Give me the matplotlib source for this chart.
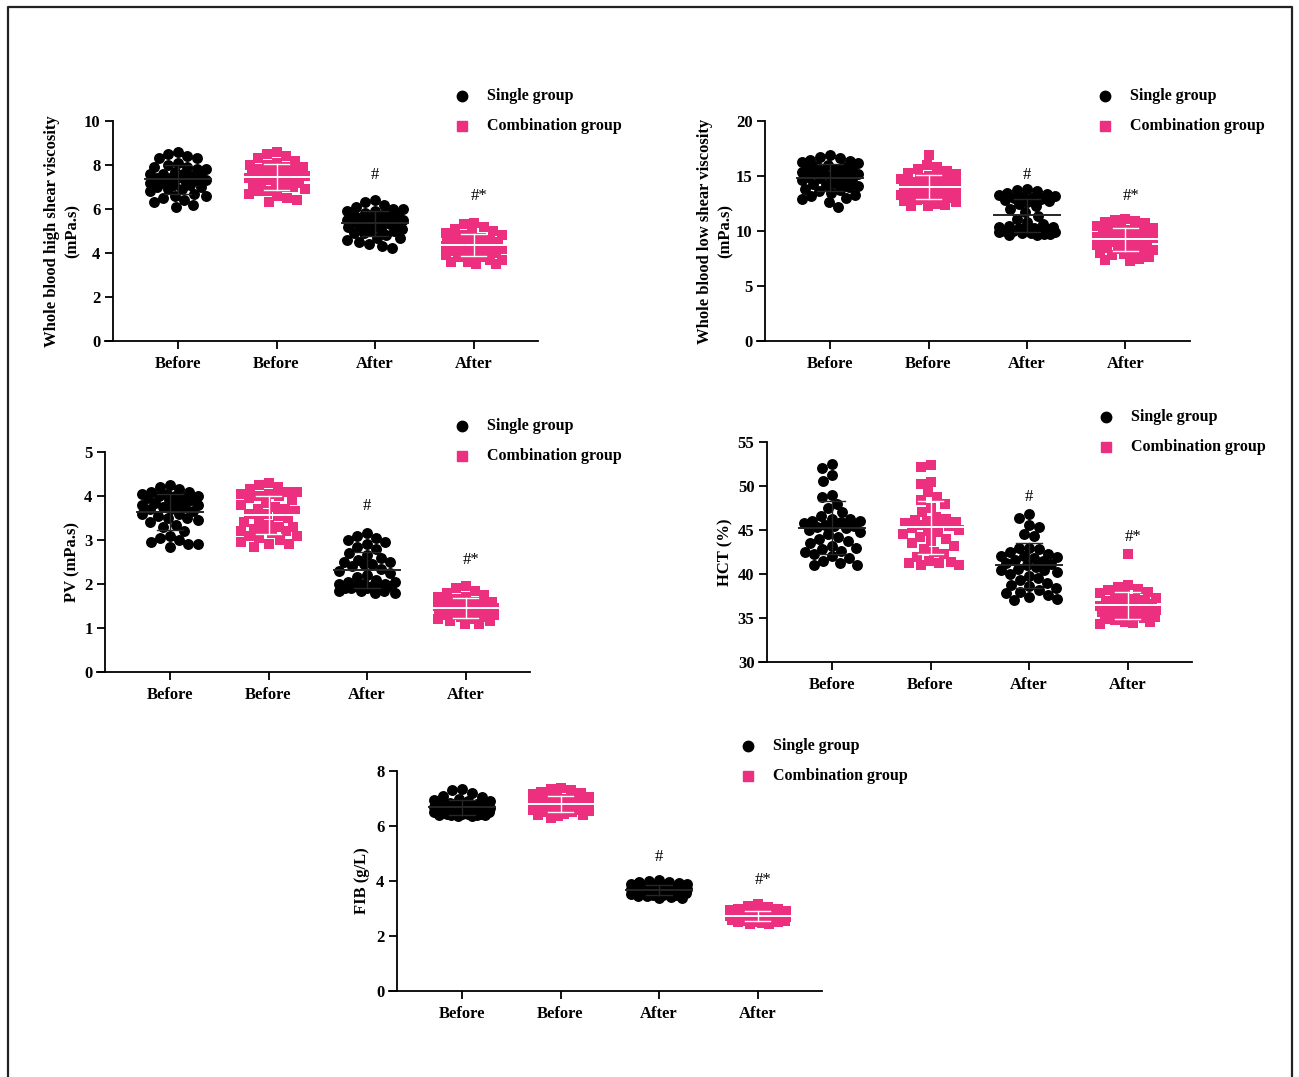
import numpy as np
import matplotlib.pyplot as plt
from matplotlib.lines import Line2D

plt.rcParams['font.family'] = ['Liberation Serif', 'DejaVu Serif']
plt.rcParams['font.weight'] = 'bold'

W, H = 1299, 1077
PINK = '#EC2F7E'
cats = ['Before', 'Before', 'After', 'After']
legend_labels = ['Single group', 'Combination group']

# --- values (approximate) ---
hs_single_before = [8.6, 8.5, 8.4, 8.3, 8.3, 8.1, 8.0, 7.9, 7.9, 7.8, 7.8, 7.7, 7.6, 7.6, 7.5, 7.5, 7.4, 7.4, 7.4, 7.3,
                    7.3, 7.3, 7.2, 7.2, 7.1, 7.1, 7.0, 7.0, 6.9, 6.9, 6.8, 6.7, 6.6, 6.6, 6.5, 6.4, 6.3, 6.2, 6.1, 7.6]
hs_combo_before = [8.6, 8.5, 8.4, 8.3, 8.2, 8.1, 8.0, 8.0, 7.9, 7.9, 7.8, 7.8, 7.7, 7.7, 7.6, 7.6, 7.6, 7.5, 7.5, 7.5,
                   7.4, 7.4, 7.3, 7.3, 7.2, 7.2, 7.1, 7.1, 7.0, 7.0, 6.9, 6.8, 6.8, 6.7, 6.6, 6.5, 6.4, 6.3, 7.8, 7.5]
hs_single_after = [6.4, 6.3, 6.2, 6.1, 6.0, 6.0, 5.9, 5.9, 5.8, 5.8, 5.7, 5.7, 5.6, 5.6, 5.5, 5.5, 5.5, 5.4, 5.4, 5.3,
                   5.3, 5.3, 5.2, 5.2, 5.1, 5.1, 5.0, 5.0, 4.9, 4.9, 4.8, 4.7, 4.7, 4.6, 4.5, 4.4, 4.3, 4.25, 5.6, 5.4]
hs_combo_after = [5.35, 5.3, 5.2, 5.1, 5.0, 4.9, 4.9, 4.8, 4.8, 4.7, 4.7, 4.6, 4.6, 4.5, 4.5, 4.5, 4.4, 4.4, 4.4, 4.3,
                  4.3, 4.3, 4.2, 4.2, 4.1, 4.1, 4.0, 4.0, 3.9, 3.9, 3.8, 3.8, 3.7, 3.7, 3.6, 3.6, 3.5, 3.5, 4.6, 4.2]

ls_single_before = [16.9, 16.7, 16.6, 16.5, 16.4, 16.3, 16.2, 16.0, 15.9, 15.8, 15.7, 15.6, 15.5, 15.4, 15.3, 15.2,
                    15.1, 15.0, 15.0, 14.9, 14.8, 14.7, 14.6, 14.5, 14.4, 14.3, 14.2, 14.1, 14.0, 13.8, 13.7, 13.6,
                    13.5, 13.3, 13.2, 13.0, 12.9, 12.6, 12.2, 15.6]
ls_combo_before = [16.9, 16.0, 15.8, 15.6, 15.5, 15.3, 15.2, 15.0, 14.9, 14.8, 14.7, 14.6, 14.5, 14.4, 14.3, 14.2,
                   14.1, 14.0, 14.0, 13.9, 13.8, 13.7, 13.6, 13.5, 13.4, 13.3, 13.2, 13.1, 13.0, 12.9, 12.8, 12.7,
                   12.6, 12.5, 12.4, 12.3, 12.3, 14.5, 13.8, 13.2]
ls_single_after = [13.8, 13.7, 13.6, 13.5, 13.4, 13.3, 13.2, 13.1, 13.0, 12.9, 12.8, 12.7, 12.5, 12.3, 12.0, 11.7,
                   11.4, 11.1, 10.8, 10.6, 10.5, 10.4, 10.3, 10.3, 10.2, 10.2, 10.1, 10.0, 10.0, 9.9, 9.9, 9.8,
                   9.8, 9.7, 9.7, 9.6, 9.6, 12.6, 13.0, 10.4]
ls_combo_after = [11.1, 11.0, 10.9, 10.8, 10.7, 10.5, 10.4, 10.3, 10.2, 10.1, 10.0, 9.9, 9.8, 9.7, 9.6, 9.5, 9.5,
                  9.4, 9.3, 9.2, 9.1, 9.0, 8.9, 8.8, 8.7, 8.6, 8.5, 8.4, 8.3, 8.2, 8.1, 8.0, 7.9, 7.8, 7.6, 7.5,
                  7.4, 7.3, 9.8, 9.4]

pv_single_before = [4.25, 4.2, 4.15, 4.1, 4.1, 4.05, 4.05, 4.0, 4.0, 3.95, 3.95, 3.9, 3.9, 3.85, 3.8, 3.8, 3.75,
                    3.75, 3.7, 3.7, 3.65, 3.6, 3.6, 3.55, 3.5, 3.5, 3.45, 3.4, 3.35, 3.3, 3.2, 3.1, 3.05, 3.0,
                    2.95, 2.9, 2.9, 2.85, 3.8, 4.0]
pv_combo_before = [4.3, 4.25, 4.2, 4.15, 4.1, 4.1, 4.05, 4.0, 4.0, 3.95, 3.9, 3.85, 3.8, 3.75, 3.7, 3.65, 3.6,
                   3.55, 3.5, 3.45, 3.4, 3.35, 3.3, 3.3, 3.25, 3.2, 3.2, 3.15, 3.1, 3.1, 3.05, 3.0, 2.95, 2.9,
                   2.9, 2.85, 3.7, 3.6, 4.05, 3.25]
pv_single_after = [3.15, 3.1, 3.05, 3.0, 2.95, 2.9, 2.85, 2.8, 2.7, 2.65, 2.6, 2.55, 2.5, 2.45, 2.45, 2.4, 2.35,
                   2.3, 2.25, 2.2, 2.15, 2.1, 2.05, 2.0, 2.0, 1.95, 1.95, 1.95, 1.9, 1.9, 1.9, 1.85, 1.85, 1.85,
                   1.8, 1.8, 2.0, 2.5, 2.05, 1.95]
pv_combo_after = [1.95, 1.9, 1.85, 1.8, 1.75, 1.7, 1.7, 1.65, 1.6, 1.6, 1.55, 1.55, 1.5, 1.5, 1.5, 1.45, 1.45,
                  1.4, 1.4, 1.4, 1.4, 1.35, 1.35, 1.35, 1.3, 1.3, 1.3, 1.25, 1.25, 1.2, 1.2, 1.15, 1.15, 1.1,
                  1.1, 1.45, 1.5, 1.4, 1.3, 1.6]

hct_single_before = [52.5, 52.1, 51.2, 50.6, 49.0, 48.8, 48.0, 47.5, 47.0, 46.6, 46.3, 46.2, 46.0, 45.9, 45.8,
                     45.6, 45.5, 45.4, 45.2, 45.0, 44.8, 44.5, 44.2, 44.0, 43.8, 43.5, 43.2, 43.0, 42.8, 42.6,
                     42.5, 42.3, 42.0, 41.8, 41.5, 41.2, 41.0, 41.0, 45.3, 46.0]
hct_combo_before = [52.4, 52.2, 50.4, 50.2, 49.3, 48.7, 48.4, 47.9, 47.5, 47.0, 46.5, 46.2, 46.0, 45.9, 45.8,
                    45.7, 45.6, 45.4, 45.2, 45.0, 44.8, 44.6, 44.2, 44.0, 43.7, 43.5, 43.2, 42.8, 42.5, 42.3,
                    41.9, 41.5, 41.4, 41.3, 41.2, 41.0, 41.0, 45.8, 46.1, 44.9]
hct_single_after = [46.8, 46.4, 45.6, 45.3, 44.6, 44.3, 43.0, 43.0, 42.8, 42.5, 42.3, 42.1, 42.0, 41.8, 41.6,
                    41.5, 41.3, 41.1, 41.0, 40.8, 40.6, 40.4, 40.2, 40.0, 39.8, 39.6, 39.3, 39.0, 38.8, 38.6,
                    38.4, 38.2, 38.0, 37.8, 37.6, 37.4, 37.2, 37.1, 41.9, 40.5]
hct_combo_after = [42.3, 38.7, 38.5, 38.3, 38.2, 38.0, 37.8, 37.6, 37.5, 37.3, 37.2, 37.0, 36.9, 36.8, 36.7,
                   36.6, 36.5, 36.4, 36.3, 36.2, 36.1, 36.0, 35.9, 35.8, 35.7, 35.6, 35.5, 35.4, 35.3, 35.2,
                   35.1, 35.0, 34.9, 34.8, 34.6, 34.5, 34.4, 34.3, 36.6, 36.2]

fib_single_before = [7.35, 7.3, 7.2, 7.1, 7.05, 7.0, 6.95, 6.9, 6.9, 6.85, 6.8, 6.8, 6.75, 6.75, 6.7, 6.7, 6.7,
                     6.65, 6.65, 6.6, 6.6, 6.6, 6.55, 6.55, 6.5, 6.5, 6.5, 6.5, 6.45, 6.45, 6.45, 6.4, 6.4, 6.4,
                     6.4, 6.35, 6.35, 6.6, 6.5, 6.45]
fib_combo_before = [7.4, 7.35, 7.3, 7.25, 7.2, 7.15, 7.1, 7.05, 7.0, 7.0, 6.95, 6.95, 6.9, 6.9, 6.85, 6.85, 6.8,
                    6.8, 6.8, 6.75, 6.75, 6.7, 6.7, 6.7, 6.65, 6.65, 6.6, 6.6, 6.55, 6.55, 6.5, 6.5, 6.45, 6.4,
                    6.4, 6.35, 6.3, 6.8, 6.9, 6.6]
fib_single_after = [4.05, 4.0, 3.98, 3.95, 3.92, 3.9, 3.88, 3.85, 3.82, 3.8, 3.8, 3.78, 3.75, 3.75, 3.72, 3.7,
                    3.7, 3.68, 3.65, 3.65, 3.62, 3.6, 3.6, 3.58, 3.55, 3.55, 3.52, 3.5, 3.5, 3.48, 3.45, 3.45,
                    3.42, 3.4, 3.4, 3.7, 3.65, 3.6, 3.75, 3.55]
fib_combo_after = [3.15, 3.1, 3.05, 3.0, 2.98, 2.95, 2.92, 2.9, 2.88, 2.85, 2.82, 2.8, 2.78, 2.75, 2.75, 2.72,
                   2.7, 2.7, 2.68, 2.65, 2.65, 2.62, 2.6, 2.6, 2.58, 2.55, 2.55, 2.52, 2.5, 2.5, 2.48, 2.45,
                   2.45, 2.7, 2.65, 2.6, 2.55, 2.75, 2.8, 2.6]

panels = [
    dict(data=[hs_single_before, hs_combo_before, hs_single_after, hs_combo_after],
         ylabel='Whole blood high shear viscosity\n(mPa.s)', ylim=(0, 10), yticks=[0, 2, 4, 6, 8, 10],
         spine_x=113, top=121, leg_x=462, leg_y=96, marks=(7.55, 6.6), lab_x=-24),
    dict(data=[ls_single_before, ls_combo_before, ls_single_after, ls_combo_after],
         ylabel='Whole blood low shear viscosity\n(mPa.s)', ylim=(0, 20), yticks=[0, 5, 10, 15, 20],
         spine_x=765, top=121, leg_x=1105, leg_y=96, marks=(15.1, 13.2), lab_x=-23),
    dict(data=[pv_single_before, pv_combo_before, pv_single_after, pv_combo_after],
         ylabel='PV (mPa.s)', ylim=(0, 5), yticks=[0, 1, 2, 3, 4, 5],
         spine_x=105, top=452, leg_x=462, leg_y=426, marks=(3.77, 2.55), lab_x=-17),
    dict(data=[hct_single_before, hct_combo_before, hct_single_after, hct_combo_after],
         ylabel='HCT (%)', ylim=(30, 55), yticks=[30, 35, 40, 45, 50, 55],
         spine_x=767, top=442, leg_x=1106, leg_y=417, marks=(48.75, 44.2), lab_x=-26),
    dict(data=[fib_single_before, fib_combo_before, fib_single_after, fib_combo_after],
         ylabel='FIB (g/L)', ylim=(0, 8), yticks=[0, 2, 4, 6, 8],
         spine_x=397, top=771, leg_x=748, leg_y=746, marks=(4.87, 4.04), lab_x=-19),
]

AX_W, AX_H = 433, 220   # axes size in pixels
UNIT = 98.5             # pixels per category step
X0 = -73 / UNIT
X1 = 360 / UNIT


def swarm_offsets(vals, ylim, d=10.5, half=28.0):
    # greedy beeswarm in pixel space, clamped to +-half px (points overlap when crowded)
    ypx = (np.asarray(vals, float) - ylim[0]) / (ylim[1] - ylim[0]) * AX_H
    order = np.argsort(-ypx, kind='stable')
    cand = np.arange(-half, half + 0.1, 1.0)
    cand = cand[np.argsort(np.abs(cand), kind='stable')]
    px, py = [], []
    off = np.zeros(len(vals))
    for j in order:
        y = ypx[j]
        x = 0.0
        if px:
            ax_ = np.array(px)
            ay_ = np.array(py)
            near = np.abs(ay_ - y) < d
            if near.any():
                dist = np.sqrt((cand[:, None] - ax_[near][None, :]) ** 2 + (y - ay_[near][None, :]) ** 2).min(axis=1)
                ok = np.where(dist >= d * 0.95)[0]
                x = cand[ok[0]] if len(ok) else cand[np.argmax(dist)]
        px.append(x)
        py.append(y)
        off[j] = x
    return off / UNIT


fig = plt.figure(figsize=(W / 100, H / 100), dpi=100)

for p in panels:
    left = (p['spine_x'] - 8) / W
    bottom = 1 - (p['top'] + AX_H) / H
    ax = fig.add_axes([left, bottom, AX_W / W, AX_H / H])

    for i, vals in enumerate(p['data']):
        single = i in (0, 2)
        xs = i + swarm_offsets(vals, p['ylim'])
        if single:
            ax.scatter(xs, vals, s=62, marker='o', color='black', linewidths=0, zorder=3, clip_on=False)
        else:
            ax.scatter(xs, vals, s=52, marker='s', color=PINK, linewidths=0, zorder=3, clip_on=False)
        m = np.mean(vals)
        sd = np.std(vals, ddof=1)
        lc = '#262626' if single else '#FFFFFF'
        ax.plot([i - 0.335, i + 0.335], [m, m], color=lc, lw=1.4, zorder=4)
        ax.plot([i, i], [m - sd, m + sd], color=lc, lw=1.0, zorder=4)
        for yy in (m - sd, m + sd):
            ax.plot([i - 0.127, i + 0.127], [yy, yy], color=lc, lw=1.0, zorder=4)

    ax.text(2, p['marks'][0], '#', ha='center', va='center', fontsize=12, fontweight='normal')
    ax.text(3.06, p['marks'][1], '#*', ha='center', va='center', fontsize=12, fontweight='normal')

    ax.set_xlim(X0, X1)
    ax.set_ylim(*p['ylim'])
    ax.set_xticks(range(4))
    ax.set_xticklabels(cats)
    ax.set_yticks(p['yticks'])
    ax.spines['top'].set_visible(False)
    ax.spines['right'].set_visible(False)
    ax.spines['left'].set_position(('data', X0 + 8 / UNIT))
    for s in ('left', 'bottom'):
        ax.spines[s].set_linewidth(1.3)
    ax.tick_params(axis='both', direction='out', length=6, width=1.3, labelsize=12, pad=3)
    ax.tick_params(axis='x', pad=5)
    ax.set_ylabel(p['ylabel'], fontsize=12, fontweight='bold', linespacing=1.45)
    ax.yaxis.set_label_coords(p['lab_x'] / AX_W, 0.5)

    # legend drawn by hand at the reference position
    for k, lab in enumerate(legend_labels):
        ly = p['leg_y'] + 30 * k
        mk = 'o' if k == 0 else 's'
        col = 'black' if k == 0 else PINK
        fig.add_artist(Line2D([p['leg_x'] / W], [1 - ly / H], transform=fig.transFigure,
                              marker=mk, markersize=7.5 if k == 0 else 6.5, color=col, linestyle='none'))
        fig.text((p['leg_x'] + 25) / W, 1 - ly / H, lab, ha='left', va='center', fontsize=11.5, fontweight='bold')

# outer frame (open at the bottom, as in the source image)
fig.add_artist(Line2D([8 / W, 8 / W, 1292 / W, 1292 / W], [0, 1 - 7 / H, 1 - 7 / H, 0],
                      transform=fig.transFigure, color='#222222', lw=1.6))

fig.savefig('out.png', dpi=100)
